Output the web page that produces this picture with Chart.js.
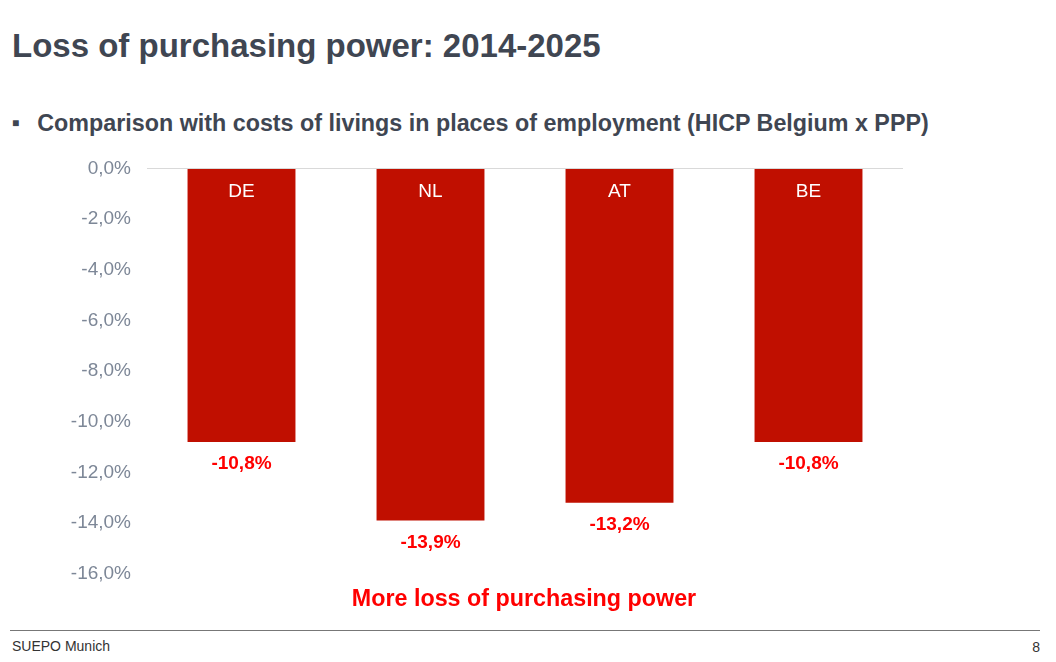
<!DOCTYPE html>
<html><head><meta charset="utf-8">
<script src="https://cdn.jsdelivr.net/npm/chart.js@4"></script>
<style>
body{margin:0;width:1056px;height:662px;background:#fff;font-family:"Liberation Sans",Arial,sans-serif;position:relative;overflow:hidden}
#t{position:absolute;left:12px;top:27px;font-size:33px;font-weight:bold;color:#3f4652}
#s{position:absolute;left:12px;top:110px;font-size:23.3px;font-weight:bold;color:#3f4652}
#s span{font-size:12px;position:relative;top:-4px;margin-right:18px}
#c{position:absolute;left:0;top:141px;width:1056px;height:460px}
#m{position:absolute;left:0;width:1048px;text-align:center;top:585px;font-size:23.3px;font-weight:bold;color:#ff0000}
#l{position:absolute;left:10px;top:630px;width:1030px;border-top:1.5px solid #777}
#f{position:absolute;left:12px;top:638px;font-size:14px;color:#333}
#n{position:absolute;right:16px;top:639px;font-size:14px;color:#333}
</style></head><body>
<div id="t">Loss of purchasing power: 2014-2025</div>
<div id="s"><span>■</span>Comparison with costs of livings in places of employment (HICP Belgium x PPP)</div>
<div id="c"><canvas id="cv"></canvas></div>
<div id="m">More loss of purchasing power</div>
<div id="l"></div><div id="f">SUEPO Munich</div><div id="n">8</div>
<script>
const categories=["DE","NL","AT","BE"];
const values=[-10.8,-13.9,-13.2,-10.8];
const fmt=v=>v.toFixed(1).replace(".",",")+"%";
const lab={id:"lab",afterDatasetsDraw(ch){const c=ch.ctx;const m=ch.getDatasetMeta(0);
c.save();c.textAlign="center";c.textBaseline="middle";
m.data.forEach((b,i)=>{c.fillStyle="#fff";c.font="19px 'Liberation Sans',Arial";c.fillText(categories[i],b.x,ch.chartArea.top+23);
c.fillStyle="#ff0000";c.font="bold 19px 'Liberation Sans',Arial";c.fillText(fmt(values[i]),b.x,b.y+22);});c.restore();}};
new Chart(document.getElementById("cv"),{type:"bar",
data:{labels:categories,datasets:[{data:values,backgroundColor:"#c00f00",categoryPercentage:1,barPercentage:0.571}]},
options:{responsive:true,maintainAspectRatio:false,animation:false,
layout:{padding:{top:10,bottom:7,right:153}},
plugins:{legend:{display:false},tooltip:{enabled:false}},
scales:{x:{display:false},
y:{min:-16,max:0,ticks:{stepSize:2,color:"#7d8797",font:{size:19,family:"'Liberation Sans',Arial"},callback:v=>fmt(v),padding:16},
border:{display:false},grid:{color:c=>c.tick.value===0?"#d9d9d9":"transparent",drawTicks:false},
afterFit:s=>{s.width=147;}}}},plugins:[lab]});
</script></body></html>
